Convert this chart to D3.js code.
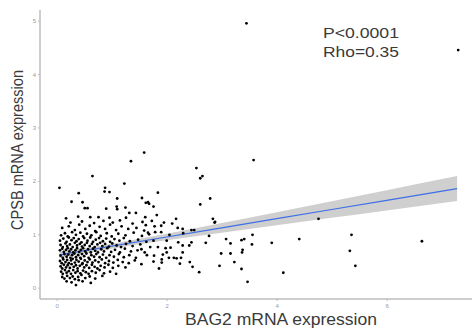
<!DOCTYPE html>
<html>
<head>
<meta charset="utf-8">
<script src="https://cdn.jsdelivr.net/npm/d3@7"></script>
<style>
  body { margin: 0; background: #fff; }
  svg { display: block; }
</style>
</head>
<body>
<div id="chart"></div>
<script>
// BAG2 (x) vs CPSB (y) mRNA expression
const points = [
  // sparse outliers
  [3.45, 4.95], [7.30, 4.45], [3.58, 2.39], [4.76, 1.29], [3.56, 0.99], [3.36, 0.89], [3.41, 0.91],
  [3.55, 0.81], [3.91, 0.84], [4.41, 0.91], [5.36, 0.99], [5.33, 0.69], [5.43, 0.41], [6.64, 0.87],
  [3.38, 0.71], [3.37, 0.66], [3.36, 0.35], [3.47, 0.11], [4.12, 0.28],
  [1.59, 2.53], [2.54, 2.24], [2.65, 2.09], [2.61, 2.05], [1.84, 1.78], [1.55, 1.68], [1.62, 1.59],
  [1.66, 1.60], [1.68, 1.57], [1.76, 1.52], [2.79, 1.67], [2.61, 1.56], [1.82, 1.36], [1.61, 1.32],
  [2.17, 1.29], [2.84, 1.29], [2.88, 1.23], [2.50, 1.08],
  [1.35, 2.37], [0.65, 2.09], [0.05, 1.87], [1.23, 1.95], [0.88, 1.87], [0.87, 1.80], [0.96, 1.79],
  [0.40, 1.77], [1.10, 1.67], [0.27, 1.61], [0.47, 1.60], [0.51, 1.49], [0.56, 1.49], [1.09, 1.52],
  [1.10, 1.47], [1.25, 1.50], [0.90, 1.48], [1.32, 1.40], [1.44, 1.40],
  // mid range
  [1.73, 1.25], [1.90, 1.16], [2.29, 1.10], [1.59, 1.07], [1.66, 1.03], [1.79, 1.04], [1.90, 1.04],
  [2.87, 1.22], [2.77, 0.97], [1.76, 0.88], [3.08, 0.91], [3.16, 0.83], [2.71, 0.84], [2.21, 0.85],
  [2.41, 0.79], [2.29, 0.79], [1.84, 0.76], [1.98, 0.74], [2.07, 0.75], [1.54, 0.72], [2.00, 0.66],
  [2.29, 0.66], [2.99, 0.64], [3.16, 0.64], [1.77, 0.60], [1.93, 0.62], [1.64, 0.61], [2.13, 0.56],
  [2.18, 0.55], [2.26, 0.56], [2.04, 0.56], [1.91, 0.53], [1.76, 0.49], [1.91, 0.47], [2.42, 0.48],
  [1.54, 0.44], [2.24, 0.45], [2.47, 0.39], [2.96, 0.41], [3.23, 0.48], [1.86, 0.36], [2.59, 0.29],
  // dense cluster
  [0.17, 1.30], [0.39, 1.33], [0.61, 1.32], [0.76, 1.32], [0.96, 1.31], [1.26, 1.31],
  [0.25, 1.22], [0.46, 1.24], [0.68, 1.21], [0.85, 1.25], [1.02, 1.22], [1.15, 1.26], [1.38, 1.20],
  [1.56, 1.23], [1.95, 1.22], [2.10, 1.20],
  [0.10, 1.12], [0.22, 1.15], [0.33, 1.08], [0.41, 1.18], [0.52, 1.10], [0.60, 1.16], [0.70, 1.06],
  [0.78, 1.14], [0.88, 1.10], [0.97, 1.18], [1.08, 1.08], [1.18, 1.15], [1.30, 1.10], [1.45, 1.12],
  [1.62, 1.17], [1.78, 1.15], [2.20, 1.12], [2.45, 1.08],
  [0.08, 0.98], [0.15, 1.02], [0.20, 0.96], [0.28, 1.04], [0.35, 0.99], [0.43, 1.03], [0.48, 0.96],
  [0.55, 1.01], [0.63, 0.98], [0.72, 1.04], [0.80, 0.97], [0.91, 1.02], [1.00, 0.96], [1.12, 1.01],
  [1.25, 0.98], [1.40, 1.03], [1.55, 0.97], [1.68, 1.00], [2.05, 0.99], [2.30, 1.02],
  [0.06, 0.88], [0.12, 0.92], [0.18, 0.86], [0.22, 0.94], [0.27, 0.89], [0.31, 0.93], [0.36, 0.87],
  [0.40, 0.91], [0.45, 0.85], [0.50, 0.93], [0.56, 0.88], [0.61, 0.94], [0.66, 0.86], [0.71, 0.90],
  [0.77, 0.93], [0.84, 0.87], [0.90, 0.92], [0.97, 0.86], [1.05, 0.91], [1.14, 0.88], [1.22, 0.93],
  [1.33, 0.87], [1.48, 0.90], [1.63, 0.86], [2.00, 0.88], [2.45, 0.85],
  [0.07, 0.80], [0.11, 0.76], [0.16, 0.83], [0.19, 0.78], [0.24, 0.81], [0.29, 0.76], [0.33, 0.84],
  [0.37, 0.79], [0.42, 0.82], [0.46, 0.77], [0.51, 0.80], [0.55, 0.84], [0.60, 0.78], [0.64, 0.82],
  [0.69, 0.76], [0.74, 0.81], [0.79, 0.84], [0.83, 0.78], [0.88, 0.82], [0.95, 0.77], [1.01, 0.83],
  [1.09, 0.79], [1.17, 0.76], [1.26, 0.82], [1.38, 0.78], [1.52, 0.81], [1.70, 0.76],
  [0.06, 0.70], [0.10, 0.73], [0.13, 0.67], [0.17, 0.71], [0.20, 0.74], [0.23, 0.68], [0.26, 0.72],
  [0.30, 0.66], [0.34, 0.70], [0.37, 0.74], [0.41, 0.67], [0.44, 0.71], [0.48, 0.74], [0.52, 0.68],
  [0.57, 0.72], [0.62, 0.66], [0.66, 0.73], [0.70, 0.69], [0.75, 0.66], [0.81, 0.72], [0.86, 0.68],
  [0.92, 0.74], [0.99, 0.67], [1.06, 0.71], [1.15, 0.66], [1.24, 0.73], [1.35, 0.68], [1.47, 0.70],
  [1.60, 0.66],
  [0.07, 0.60], [0.11, 0.56], [0.14, 0.63], [0.18, 0.58], [0.21, 0.62], [0.25, 0.56], [0.28, 0.61],
  [0.32, 0.64], [0.35, 0.57], [0.39, 0.61], [0.43, 0.56], [0.46, 0.63], [0.50, 0.59], [0.54, 0.64],
  [0.58, 0.56], [0.63, 0.61], [0.68, 0.58], [0.72, 0.63], [0.78, 0.57], [0.84, 0.62], [0.90, 0.56],
  [0.96, 0.61], [1.04, 0.58], [1.13, 0.63], [1.22, 0.57], [1.32, 0.61], [1.44, 0.56],
  [0.06, 0.50], [0.09, 0.46], [0.12, 0.53], [0.16, 0.48], [0.19, 0.52], [0.22, 0.46], [0.26, 0.51],
  [0.29, 0.54], [0.33, 0.47], [0.36, 0.52], [0.40, 0.49], [0.44, 0.54], [0.47, 0.46], [0.51, 0.51],
  [0.56, 0.48], [0.60, 0.53], [0.65, 0.47], [0.70, 0.51], [0.76, 0.48], [0.82, 0.53], [0.88, 0.46],
  [0.95, 0.50], [1.03, 0.47], [1.11, 0.52], [1.20, 0.48], [1.31, 0.46], [1.42, 0.51],
  [0.07, 0.40], [0.10, 0.36], [0.13, 0.43], [0.17, 0.38], [0.20, 0.42], [0.24, 0.37], [0.27, 0.44],
  [0.31, 0.39], [0.35, 0.42], [0.38, 0.36], [0.42, 0.41], [0.46, 0.44], [0.50, 0.38], [0.54, 0.42],
  [0.59, 0.37], [0.64, 0.43], [0.69, 0.39], [0.74, 0.36], [0.80, 0.41], [0.87, 0.38], [0.94, 0.43],
  [1.02, 0.37], [1.12, 0.41], [1.25, 0.38],
  [0.08, 0.30], [0.11, 0.26], [0.15, 0.33], [0.18, 0.28], [0.22, 0.31], [0.26, 0.26], [0.30, 0.33],
  [0.34, 0.28], [0.38, 0.31], [0.43, 0.27], [0.48, 0.32], [0.53, 0.29], [0.58, 0.26], [0.64, 0.31],
  [0.71, 0.28], [0.78, 0.33], [0.86, 0.27], [0.97, 0.30], [1.08, 0.26],
  [0.10, 0.20], [0.14, 0.17], [0.19, 0.22], [0.24, 0.18], [0.29, 0.21], [0.33, 0.16], [0.39, 0.20],
  [0.45, 0.24], [0.52, 0.18], [0.60, 0.21], [0.70, 0.17], [0.83, 0.22],
  [0.18, 0.12], [0.27, 0.10], [0.35, 0.05], [0.47, 0.12], [0.62, 0.09], [0.40, 0.14]
];

// fitted line with its confidence band
const fitX = [0.05, 1, 2, 3, 4, 5, 6, 7.28];
const fitY = [0.614, 0.777, 0.949, 1.121, 1.293, 1.465, 1.637, 1.857];
const bandLo = [0.557, 0.729, 0.887, 1.031, 1.171, 1.310, 1.447, 1.622];
const bandHi = [0.671, 0.825, 1.011, 1.211, 1.415, 1.620, 1.827, 2.092];

const xTicks = [0, 2, 4, 6];
const yTicks = [0, 1, 2, 3, 4, 5];

const W = 472, H = 329;
const svg = d3.select('#chart').append('svg').attr('width', W).attr('height', H);

const x = d3.scaleLinear().domain([0, 7.5]).range([56.7, 469.2]);
const y = d3.scaleLinear().domain([0, 5]).range([287.7, 20.7]);

// band + line
const band = d3.area()
  .x((d, i) => x(fitX[i]))
  .y0((d, i) => y(bandLo[i]))
  .y1((d, i) => y(bandHi[i]))
  .curve(d3.curveMonotoneX);
svg.append('path').datum(fitX).attr('d', band).attr('fill', '#cfcfcf');

const line = d3.line()
  .x((d, i) => x(fitX[i]))
  .y((d, i) => y(fitY[i]));
svg.append('path').datum(fitX).attr('d', line)
  .attr('fill', 'none').attr('stroke', '#3f6fe6').attr('stroke-width', 1.2);

// points
svg.append('g').selectAll('circle')
  .data(points)
  .enter()
  .append('circle')
  .attr('cx', d => x(d[0]))
  .attr('cy', d => y(d[1]))
  .attr('r', 1.4)
  .attr('fill', '#000');

// axes
const axisColor = '#bdbdbd';
const xAxis = svg.append('g')
  .attr('transform', 'translate(0,299)')
  .call(d3.axisBottom(x).tickValues(xTicks).tickFormat(d3.format('d')).tickSize(2).tickPadding(3));
const yAxis = svg.append('g')
  .attr('transform', 'translate(40,0)')
  .call(d3.axisLeft(y).tickValues(yTicks).tickFormat(d3.format('d')).tickSize(2).tickPadding(2));
[xAxis, yAxis].forEach(g => {
  g.select('.domain').remove();
  g.selectAll('line').attr('stroke', axisColor);
  g.selectAll('text').attr('fill', '#9a9a9a').style('font-size', '6px')
    .style('font-family', 'Liberation Sans, Arial, sans-serif');
});
svg.append('line').attr('x1', 40).attr('x2', 472).attr('y1', 299).attr('y2', 299)
  .attr('stroke', axisColor).attr('stroke-width', 1.5);
svg.append('line').attr('x1', 40).attr('x2', 40).attr('y1', 10).attr('y2', 299)
  .attr('stroke', axisColor).attr('stroke-width', 1.5);

// titles
const font = 'Liberation Sans, Arial, sans-serif';
svg.append('text')
  .attr('x', 281).attr('y', 325)
  .attr('text-anchor', 'middle')
  .attr('textLength', 192).attr('lengthAdjust', 'spacingAndGlyphs')
  .style('font-family', font).style('font-size', '16px').attr('fill', '#3a3a3a')
  .text('BAG2 mRNA expression');
svg.append('text')
  .attr('transform', 'translate(23,150) rotate(-90)')
  .attr('text-anchor', 'middle')
  .attr('textLength', 160).attr('lengthAdjust', 'spacingAndGlyphs')
  .style('font-family', font).style('font-size', '17px').attr('fill', '#3a3a3a')
  .text('CPSB mRNA expression');

// stats
svg.append('text')
  .attr('x', 323).attr('y', 38).attr('textLength', 76).attr('lengthAdjust', 'spacingAndGlyphs')
  .style('font-family', font).style('font-size', '15px').attr('fill', '#3a3a3a')
  .text('P<0.0001');
svg.append('text')
  .attr('x', 323).attr('y', 57).attr('textLength', 76).attr('lengthAdjust', 'spacingAndGlyphs')
  .style('font-family', font).style('font-size', '15px').attr('fill', '#3a3a3a')
  .text('Rho=0.35');
</script>
</body>
</html>
